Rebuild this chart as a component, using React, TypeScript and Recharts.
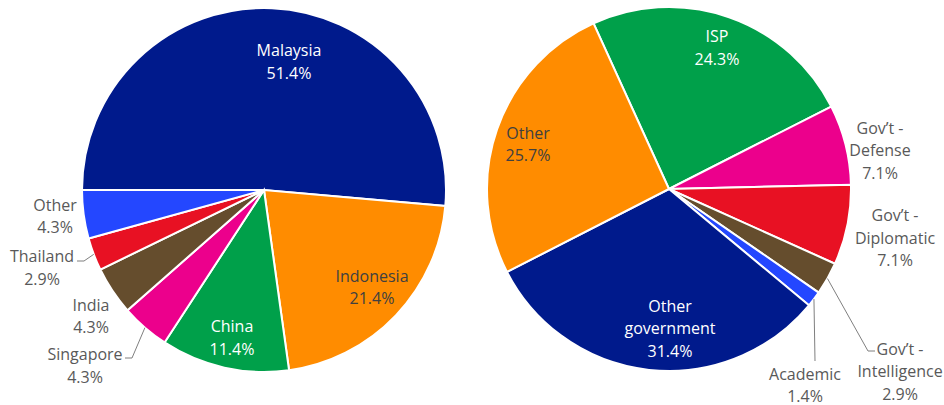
import { PieChart, Pie, Cell } from "recharts";

const leftNames = ["Malaysia", "Indonesia", "China", "Singapore", "India", "Thailand", "Other"];
const leftShares = [51.4, 21.4, 11.4, 4.3, 4.3, 2.9, 4.3];
const leftColors = ["#001a8c", "#ff8c00", "#00a04a", "#ec008c", "#654d2d", "#e81123", "#2447ff"];

const rightNames = [
  "ISP",
  "Gov\u2019t - Defense",
  "Gov\u2019t - Diplomatic",
  "Gov\u2019t - Intelligence",
  "Academic",
  "Other government",
  "Other",
];
const rightShares = [24.3, 7.1, 7.1, 2.9, 1.4, 31.4, 25.7];
const rightColors = ["#00a04a", "#ec008c", "#e81123", "#654d2d", "#2447ff", "#001a8c", "#ff8c00"];

const leftData = leftNames.map((name, i) => ({ name, value: leftShares[i] }));
const rightData = rightNames.map((name, i) => ({ name, value: rightShares[i] }));

// label placement, relative to the pie centre
type Place = { lines: string[]; dx: number; dy: number; fill: string; leader?: number[][] };

const WHITE = "#ffffff";
const DARK = "#404040";
const GREY = "#595959";

const leftLabels: Record<string, Place> = {
  Malaysia: { lines: ["Malaysia"], dx: 25, dy: -128.5, fill: WHITE },
  Indonesia: { lines: ["Indonesia"], dx: 108, dy: 97, fill: DARK },
  China: { lines: ["China"], dx: -32, dy: 147.5, fill: WHITE },
  Singapore: { lines: ["Singapore"], dx: -179, dy: 175.5, fill: GREY, leader: [[-132, 168], [-139, 168]] },
  India: { lines: ["India"], dx: -173, dy: 126, fill: GREY },
  Thailand: { lines: ["Thailand"], dx: -222, dy: 77.5, fill: GREY, leader: [[-180, 71], [-187, 71]] },
  Other: { lines: ["Other"], dx: -209, dy: 26, fill: GREY },
};

const rightLabels: Record<string, Place> = {
  ISP: { lines: ["ISP"], dx: 48, dy: -141.5, fill: WHITE },
  "Gov\u2019t - Defense": { lines: ["Gov\u2019t -", "Defense"], dx: 211, dy: -39, fill: GREY },
  "Gov\u2019t - Diplomatic": { lines: ["Gov\u2019t -", "Diplomatic"], dx: 226, dy: 48.5, fill: GREY },
  "Gov\u2019t - Intelligence": {
    lines: ["Gov\u2019t -", "Intelligence"],
    dx: 231,
    dy: 182,
    fill: GREY,
    leader: [[199, 162], [206, 162]],
  },
  Academic: { lines: ["Academic"], dx: 136, dy: 196, fill: GREY, leader: [[146, 172]] },
  "Other government": { lines: ["Other", "government"], dx: 1, dy: 139, fill: WHITE },
  Other: { lines: ["Other"], dx: -141, dy: -45, fill: DARK },
};

const RAD = Math.PI / 180;
const LINE = 22.5;

function makeLabel(table: Record<string, Place>) {
  return (props: any) => {
    const { cx, cy, midAngle, outerRadius, name, value } = props;
    const p = table[name];
    if (!p) return null;
    const lines = [...p.lines, `${Number(value).toFixed(1)}%`];
    const x = cx + p.dx;
    const y0 = cy + p.dy - ((lines.length - 1) * LINE) / 2;
    let leader = null;
    if (p.leader) {
      const sx = cx + outerRadius * Math.cos(-midAngle * RAD);
      const sy = cy + outerRadius * Math.sin(-midAngle * RAD);
      const pts = [[sx, sy], ...p.leader.map(([a, b]) => [cx + a, cy + b])];
      leader = (
        <polyline
          points={pts.map((q) => q.join(",")).join(" ")}
          fill="none"
          stroke="#7f7f7f"
          strokeWidth={1}
        />
      );
    }
    return (
      <g>
        {leader}
        <text x={x} y={y0} fill={p.fill} textAnchor="middle" fontSize={16} fontFamily="'Open Sans', sans-serif">
          {lines.map((l, i) => (
            <tspan key={i} x={x} y={y0 + i * LINE} dominantBaseline="central">
              {l}
            </tspan>
          ))}
        </text>
      </g>
    );
  };
}

export default function App() {
  return (
    <div style={{ width: 944, height: 405, background: "#fff" }}>
      <style>{"body{margin:0}"}</style>
      <PieChart width={944} height={405} margin={{ top: 0, right: 0, bottom: 0, left: 0 }}>
        <Pie
          data={leftData}
          dataKey="value"
          nameKey="name"
          cx={264}
          cy={190}
          outerRadius={182}
          startAngle={180}
          endAngle={-180}
          stroke="#ffffff"
          strokeWidth={2}
          labelLine={false}
          label={makeLabel(leftLabels)}
          isAnimationActive={false}
        >
          {leftData.map((d, i) => (
            <Cell key={d.name} fill={leftColors[i]} />
          ))}
        </Pie>
        <Pie
          data={rightData}
          dataKey="value"
          nameKey="name"
          cx={669}
          cy={189}
          outerRadius={182}
          startAngle={114.5}
          endAngle={-245.5}
          stroke="#ffffff"
          strokeWidth={2}
          labelLine={false}
          label={makeLabel(rightLabels)}
          isAnimationActive={false}
        >
          {rightData.map((d, i) => (
            <Cell key={d.name} fill={rightColors[i]} />
          ))}
        </Pie>
      </PieChart>
    </div>
  );
}
